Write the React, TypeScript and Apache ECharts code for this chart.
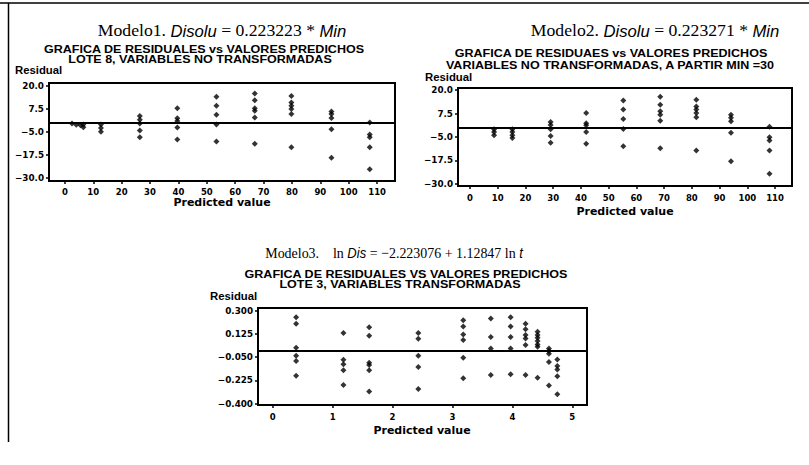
import React, { useEffect, useRef } from "react";
import * as echarts from "echarts";

// ---- Model 1: residuals vs predicted (lote 8, untransformed)
const m1Pred = [2.5, 4, 5.5, 6.5, 6.5, 12.7, 12.7, 12.7, 26.4, 26.4, 26.4, 26.4, 26.4, 39.6, 39.6, 39.6, 39.6, 39.6, 53.4, 53.4, 53.4, 53.4, 53.4, 66.9, 66.9, 66.9, 66.9, 66.9, 66.9, 79.8, 79.8, 79.8, 79.8, 79.8, 79.8, 93.9, 93.9, 93.9, 93.9, 93.9, 107.4, 107.4, 107.4, 107.4, 107.4];
const m1Resid = [-0.5, -1.2, -1.5, -1, -2.5, -1, -3, -5, 3.5, 1.5, -0.5, -4.3, -7.9, 7.8, 2.3, 0.8, -2.6, -9.2, 13.9, 9.1, 4.2, -1.1, -10.2, 15.7, 12.1, 7.8, 6.4, 2.8, -11.5, 14.4, 10.8, 9.1, 7.3, 4.6, -13.3, 6, 4.6, 2.5, -3.6, -19, 0, -6.5, -7.9, -13.3, -25.3];

// ---- Model 2: residuals vs predicted (from Min = 30)
const m2Pred = [8.7, 8.7, 8.7, 15.3, 15.3, 15.3, 15.3, 29.1, 29.1, 29.1, 29.1, 29.1, 41.9, 41.9, 41.9, 41.9, 41.9, 55.3, 55.3, 55.3, 55.3, 55.3, 68.6, 68.6, 68.6, 68.6, 68.6, 68.6, 81.6, 81.6, 81.6, 81.6, 81.6, 81.6, 94.1, 94.1, 94.1, 94.1, 94.1, 108, 108, 108, 108, 108];
const m2Resid = [-0.9, -2.3, -4.1, -0.9, -2.3, -4.1, -5.5, 3, 1.4, -0.9, -4.5, -8, 7.8, 2.3, 1.2, -2.3, -8.6, 14.4, 9.6, 4.6, -0.7, -9.9, 16.5, 12.2, 8.7, 6.9, 3.7, -11, 14.9, 11.2, 9.6, 7.8, 5.5, -12.2, 6.9, 5.2, 3.4, -2.8, -17.9, 0.5, -5.1, -6.9, -12.2, -24.6];

// ---- Model 3: residuals vs predicted (lote 3, transformed)
const m3Pred = [0.39, 0.39, 0.39, 0.39, 0.39, 0.39, 1.18, 1.18, 1.18, 1.18, 1.18, 1.61, 1.61, 1.61, 1.61, 1.61, 1.61, 2.43, 2.43, 2.43, 2.43, 2.43, 3.18, 3.18, 3.18, 3.18, 3.18, 3.18, 3.64, 3.64, 3.64, 3.64, 3.97, 3.97, 3.97, 3.97, 3.97, 4.22, 4.22, 4.22, 4.22, 4.22, 4.22, 4.42, 4.42, 4.42, 4.42, 4.42, 4.42, 4.42, 4.61, 4.61, 4.61, 4.61, 4.61, 4.75, 4.75, 4.75, 4.75, 4.75];
const m3Resid = [0.25, 0.2, 0.02, -0.04, -0.08, -0.19, 0.13, -0.07, -0.105, -0.15, -0.26, 0.175, 0.11, -0.093, -0.11, -0.15, -0.31, 0.13, 0.087, -0.04, -0.125, -0.29, 0.226, 0.18, 0.12, 0.078, -0.055, -0.21, 0.24, 0.1, 0.015, -0.186, 0.25, 0.18, 0.1, 0.015, -0.18, 0.2, 0.16, 0.115, 0.09, 0.04, -0.186, 0.14, 0.115, 0.096, 0.07, 0.045, 0.028, -0.206, 0.015, -0.005, -0.025, -0.088, -0.264, -0.068, -0.118, -0.143, -0.194, -0.33];

// ---- tick labels
const xTicks12 = [0, 10, 20, 30, 40, 50, 60, 70, 80, 90, 100, 110];
const yTicks12 = [20, 7.5, -5, -17.5, -30];
const xTicks3 = [0, 1, 2, 3, 4, 5];
const yTicks3 = [0.3, 0.125, -0.05, -0.225, -0.4];

const titles = [
  "{a|Modelo1. }{i|Disolu}{a| = 0.223223 * }{i|Min}",
  "{a|Modelo2. }{i|Disolu}{a| = 0.223271 * }{i|Min}",
  "{a|Modelo3.    ln }{i|Dis}{a| = −2.223076 + 1.12847 ln }{i|t}",
];
const subtitles = [
  ["GRAFICA DE RESIDUALES vs VALORES PREDICHOS", "LOTE 8, VARIABLES NO TRANSFORMADAS"],
  ["GRAFICA DE RESIDUAES vs VALORES PREDICHOS", "VARIABLES NO TRANSFORMADAS, A PARTIR MIN =30"],
  ["GRAFICA DE RESIDUALES VS VALORES PREDICHOS", "LOTE 3, VARIABLES TRANSFORMADAS"],
];

const SANS = "'Liberation Sans', Arial, sans-serif";
const WIDE = "'DejaVu Sans', Verdana, sans-serif";
const SERIF = "'Liberation Serif', 'Times New Roman', serif";

function zip(a: number[], b: number[]) {
  return a.map((v, i) => [v, b[i]]);
}

export default function App() {
  const ref = useRef<HTMLDivElement>(null);
  useEffect(() => {
    document.body.style.margin = "0";
    if (!ref.current) return;
    const chart = echarts.init(ref.current, null, { renderer: "svg" });

    const grids = [
      { left: 49, top: 83, width: 346, height: 98 },
      { left: 458, top: 88, width: 334, height: 98 },
      { left: 258, top: 308, width: 329, height: 97 },
    ];
    const xRanges = [
      [-5.6, 116.3],
      [-4.3, 116.1],
      [-0.246, 5.245],
    ];
    const yRanges = [
      [-31.6, 21.4],
      [-31.1, 21.1],
      [-0.411, 0.319],
    ];
    const xTickSets = [xTicks12, xTicks12, xTicks3];
    const yTickSets = [yTicks12, yTicks12, yTicks3];
    const yDigits = [1, 1, 3];
    const xMargins = [6, 7, 7];

    const labelStyle = { fontFamily: WIDE, fontWeight: "bold" as const, fontSize: 8.5, color: "#000" };

    const xAxis = grids.map((_, i) => ({
      type: "value",
      gridIndex: i,
      min: xRanges[i][0],
      max: xRanges[i][1],
      axisLine: { show: false, onZero: false },
      splitLine: { show: false },
      axisTick: { show: true, customValues: xTickSets[i], length: 3, lineStyle: { color: "#000", width: 1.5 } },
      axisLabel: { ...labelStyle, customValues: xTickSets[i], margin: xMargins[i], formatter: (v: number) => String(v) },
    }));
    const yAxis = grids.map((_, i) => ({
      type: "value",
      gridIndex: i,
      min: yRanges[i][0],
      max: yRanges[i][1],
      axisLine: { show: false, onZero: false },
      splitLine: { show: false },
      axisTick: { show: true, customValues: yTickSets[i], length: 3, lineStyle: { color: "#000", width: 1.5 } },
      axisLabel: {
        ...labelStyle,
        fontSize: 8.8,
        customValues: yTickSets[i],
        margin: 5,
        formatter: (v: number) => v.toFixed(yDigits[i]).replace("-", "−"),
      },
    }));

    const datasets = [zip(m1Pred, m1Resid), zip(m2Pred, m2Resid), zip(m3Pred, m3Resid)];
    const series = datasets.map((d, i) => ({
      type: "scatter",
      xAxisIndex: i,
      yAxisIndex: i,
      data: d,
      symbol: "diamond",
      symbolSize: [6, 6],
      itemStyle: { color: "#000" },
      markLine: {
        silent: true,
        symbol: ["none", "none"],
        label: { show: false },
        lineStyle: { color: "#000", width: 1.8, type: "solid" },
        data: [{ yAxis: 0 }],
      },
    }));

    const titlePos = [
      [222, 31],
      [655, 31],
      [394, 253],
    ];
    const titleSize = [17, 17, 15];
    const titleScale = [1.04, 1.04, 0.93];
    const subPos = [
      [[204, 49], [200, 59]],
      [[611, 53], [610, 65]],
      [[406, 274], [400, 284]],
    ];
    const residPos = [
      [15, 70],
      [425, 77],
      [210, 296],
    ];
    const predPos = [
      [222, 202],
      [625, 211],
      [422, 430],
    ];

    const graphic: any[] = [
      { type: "line", shape: { x1: 0, y1: 3, x2: 809, y2: 3 }, style: { stroke: "#000", lineWidth: 1.5 } },
      { type: "line", shape: { x1: 8.5, y1: 3, x2: 8.5, y2: 442 }, style: { stroke: "#000", lineWidth: 1.5 } },
    ];
    for (let i = 0; i < 3; i++) {
      graphic.push({
        type: "text",
        x: titlePos[i][0],
        y: titlePos[i][1],
        scaleX: titleScale[i],
        style: {
          text: titles[i],
          align: "center",
          verticalAlign: "middle",
          rich: {
            a: { fontFamily: SERIF, fontSize: titleSize[i], fill: "#000" },
            i: { fontFamily: SANS, fontStyle: "italic", fontSize: titleSize[i] - 1, fill: "#000" },
          },
        },
      });
      for (let j = 0; j < 2; j++) {
        graphic.push({
          type: "text",
          x: subPos[i][j][0],
          y: subPos[i][j][1],
          scaleX: 1.14,
          style: {
            text: subtitles[i][j],
            align: "center",
            verticalAlign: "middle",
            fontFamily: SANS,
            fontWeight: "bold",
            fontSize: 11,
            fill: "#000",
          },
        });
      }
      graphic.push({
        type: "text",
        x: residPos[i][0],
        y: residPos[i][1],
        scaleX: 1.08,
        style: { text: "Residual", align: "left", verticalAlign: "middle", fontFamily: SANS, fontWeight: "bold", fontSize: 10.5, fill: "#000" },
      });
      graphic.push({
        type: "text",
        x: predPos[i][0],
        y: predPos[i][1],
        style: { text: "Predicted value", align: "center", verticalAlign: "middle", fontFamily: WIDE, fontWeight: "bold", fontSize: 11, fill: "#000" },
      });
    }

    chart.setOption({
      animation: false,
      backgroundColor: "#fff",
      grid: grids.map((g) => ({ ...g, show: true, borderColor: "#000", borderWidth: 2, backgroundColor: "transparent", containLabel: false })),
      xAxis,
      yAxis,
      series,
      graphic,
    });
    return () => chart.dispose();
  }, []);
  return <div ref={ref} style={{ width: 809, height: 465 }} />;
}
